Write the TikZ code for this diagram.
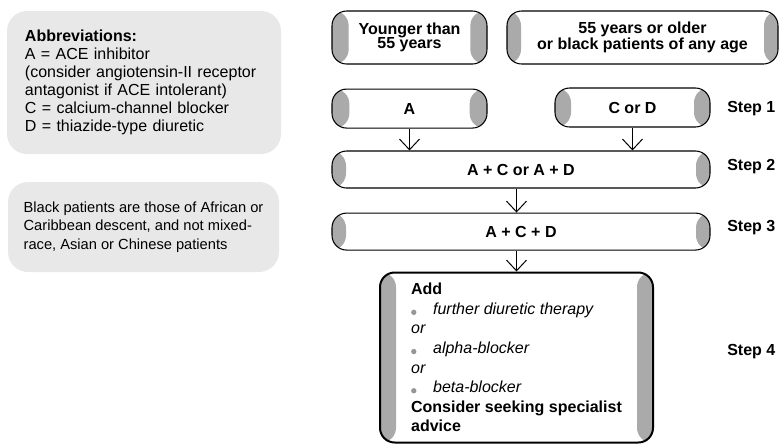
\documentclass[tikz,border=0pt]{standalone}
\usepackage{fontspec}
\setmainfont{Liberation Sans}
\usepackage{xcolor}
\usepackage{tikz}
\usetikzlibrary{arrows.meta, positioning}
\definecolor{bandgray}{RGB}{170,170,170}
\definecolor{notegray}{RGB}{232,232,232}
\definecolor{dotgray}{RGB}{150,150,150}
\newcommand{\dotitem}[1]{\makebox[16.5pt][l]{\tikz[baseline=0pt]\fill[dotgray] (1.9pt,1.4pt) circle[radius=2pt];}\textit{#1}}

\begin{document}
\begin{tikzpicture}[
  x=0.75pt, y=-0.75pt,
  node distance=18pt,
  drugbox/.style={
    rectangle, rounded corners=11pt,
    draw=black, line width=0.8pt, fill=white,
    align=center, inner sep=0pt,
    font=\fontsize{12pt}{11pt}\selectfont\bfseries,
    path picture={
      \fill[bandgray] (path picture bounding box.south west) rectangle ([xshift=#1]path picture bounding box.north west);
      \fill[bandgray] (path picture bounding box.south east) rectangle ([xshift=-#1]path picture bounding box.north east);
    }
  },
  drugbox/.default=11pt,
  notebox/.style={
    rectangle, rounded corners=15pt, fill=notegray,
    align=left, inner ysep=2pt
  },
  steplabel/.style={anchor=base west, inner sep=0pt, font=\fontsize{12pt}{14pt}\selectfont\bfseries},
  arrow/.style={-{Straight Barb[length=8pt,width=15pt]}, line width=0.75pt}
]
\useasboundingbox (0,0) rectangle (779,444);

% ── Notes on the left ──
\node[notebox, minimum width=205.5pt, minimum height=107.25pt, inner xsep=13.5pt, text width=178.5pt,
  font=\fontsize{12pt}{13.5pt}\selectfont] (abbrev) at (144,82.5)
  {\textbf{Abbreviations:}\\A = ACE inhibitor\\(consider angiotensin-II receptor\\antagonist if ACE intolerant)\\C = calcium-channel blocker\\D = thiazide-type diuretic};
\node[notebox, minimum width=203.25pt, minimum height=67.5pt, inner xsep=0pt,
  font=\fontsize{11pt}{13.9pt}\selectfont] (black) at (143.5,227)
  {Black patients are those of African or\\Caribbean descent, and not mixed-\\race, Asian or Chinese patients};

% ── Patient groups ──
\node[drugbox=12.5pt, minimum width=116.25pt, minimum height=39.75pt] (young) at (409.5,37.5) {Younger than\\55 years};
\node[drugbox=10.5pt, minimum width=203.25pt, minimum height=39.75pt] (old) at (642.5,37.5) {55 years or older\\or black patients of any age};

% ── Step 1 ──
\node[drugbox=13pt, minimum width=116.25pt, minimum height=29.25pt, below=18pt of young] (a) {A};
\node[drugbox=12pt, minimum width=116.25pt, minimum height=29.25pt] (cd) at (632.5,107.5) {C or D};

% ── Steps 2 and 3 ──
\node[drugbox=10.5pt, minimum width=283.5pt, minimum height=27.75pt] (ac) at (521,169.5) {A + C or A + D};
\node[drugbox=10.5pt, minimum width=283.5pt, minimum height=27.75pt, below=18pt of ac] (acd) {A + C + D};

% ── Step 4 ──
\node[drugbox=12pt, line width=1.5pt, minimum width=204.75pt, minimum height=127.5pt,
  align=left, font=\fontsize{12pt}{14.7pt}\selectfont] (addon) at (516.5,357.5)
  {\textbf{Add}\\\dotitem{further diuretic therapy}\\\textit{or}\\\dotitem{alpha-blocker}\\\textit{or}\\\dotitem{beta-blocker}\\\textbf{Consider seeking specialist}\\\textbf{advice}};

% ── Step labels ──
\node[steplabel] (step1) at (727,112) {Step 1};
\node[steplabel] (step2) at (727,170) {Step 2};
\node[steplabel] (step3) at (727,231) {Step 3};
\node[steplabel] (step4) at (727,355.5) {Step 4};

% ── Arrows ──
\draw[arrow] (a) -- (a |- ac.north);
\draw[arrow] (cd) -- (cd |- ac.north);
\draw[arrow] (ac.south -| addon.north) -- (acd.north -| addon.north);
\draw[arrow] (acd.south -| addon.north) -- (addon.north);

\end{tikzpicture}
\end{document}
